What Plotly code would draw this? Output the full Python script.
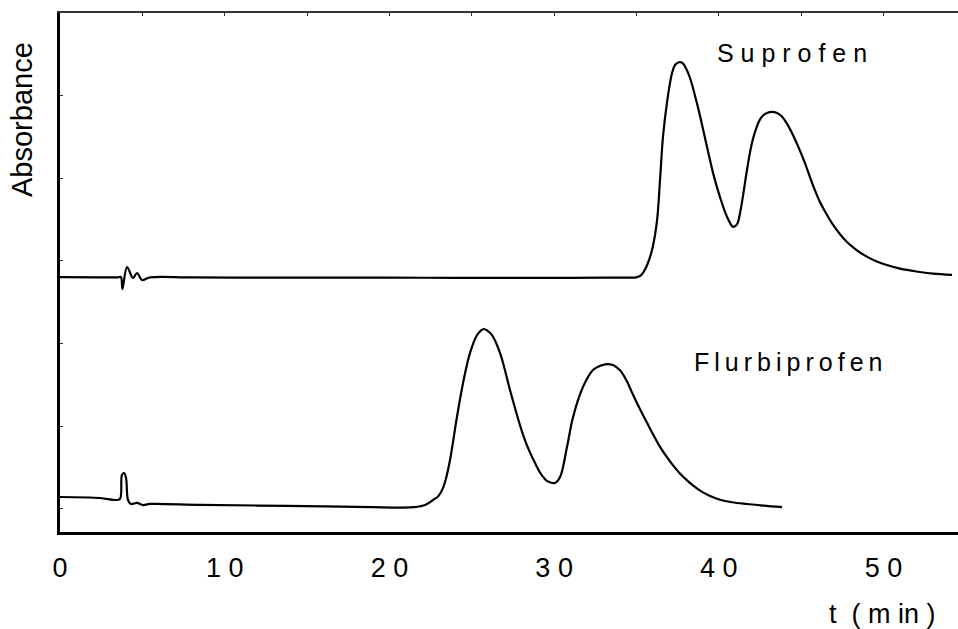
import plotly.graph_objects as go

# ---- data (t in min, absorbance in arbitrary units) ----
suprofen_t = [0.0, 2.43, 3.52, 3.70, 3.79, 4.07, 4.43, 4.68, 4.98, 5.46, 8.0, 12.0, 16.0, 20.0, 24.0,
              28.0, 31.0, 33.0, 34.3, 35.0, 35.25,
              35.45, 35.69, 35.99, 36.25, 36.43, 36.61, 36.85, 37.16, 37.35, 37.58, 37.80, 38.07,
              38.25, 38.43, 38.65, 38.86, 39.28, 39.65, 40.07, 40.50, 40.86, 41.10, 41.29, 41.71,
              41.90, 42.08, 42.30, 42.50, 42.70, 42.95, 43.23, 43.50, 43.80, 44.10, 44.50, 45.11,
              45.50, 45.72, 46.14, 46.55, 46.95, 47.36, 47.76, 48.17, 48.57, 48.98, 49.59, 50.0,
              51.0, 52.0, 53.0, 54.16]
suprofen_a = [3.083, 3.08, 3.08, 3.083, 2.938, 3.204, 3.071, 3.132, 3.047, 3.08, 3.078, 3.076, 3.075,
              3.075, 3.074, 3.074, 3.074, 3.075, 3.076, 3.08, 3.10,
              3.15, 3.25, 3.45, 3.77, 4.26, 4.78, 5.19, 5.55, 5.65, 5.68, 5.67, 5.58,
              5.49, 5.37, 5.20, 5.03, 4.66, 4.34, 4.05, 3.81, 3.69, 3.72, 3.86, 4.38,
              4.60, 4.76, 4.90, 4.99, 5.04, 5.07, 5.08, 5.07, 5.03, 4.95, 4.80, 4.52,
              4.31, 4.19, 3.99, 3.84, 3.71, 3.60, 3.51, 3.44, 3.38, 3.33, 3.27, 3.24,
              3.185, 3.15, 3.125, 3.11]

flurbi_t = [0.0, 2.43, 3.34, 3.64, 3.76, 3.89, 4.01, 4.13, 4.31, 4.68, 5.04, 5.46, 8.50, 12.0, 16.0,
            19.0, 20.64, 21.5, 22.2, 22.65, 23.0, 23.25, 23.45, 23.68, 24.10, 24.47, 24.89, 25.32,
            25.52, 25.74, 25.98, 26.23, 26.72, 27.32, 27.93, 28.25, 28.54, 28.85, 29.14, 29.40,
            29.63, 30.05, 30.36, 30.78, 31.15, 31.75, 32.36, 32.80, 33.21, 33.60, 34.00, 34.40,
            34.79, 35.20, 35.64, 36.43, 36.85, 37.22, 37.65, 38.07, 38.45, 38.86, 39.40, 40.07,
            40.80, 41.71, 42.70, 43.84]
flurbi_a = [0.423, 0.411, 0.387, 0.399, 0.689, 0.713, 0.653, 0.387, 0.339, 0.351, 0.326, 0.339, 0.328,
            0.320, 0.310, 0.300, 0.295, 0.300, 0.330, 0.387, 0.44, 0.53, 0.66, 0.871, 1.391,
            1.802, 2.164, 2.382, 2.43, 2.455, 2.43, 2.382, 2.164, 1.717, 1.29, 1.10, 0.96,
            0.83, 0.72, 0.65, 0.61, 0.593, 0.665, 1.028, 1.391, 1.753, 1.959, 2.01, 2.031,
            2.015, 1.955, 1.83, 1.66, 1.49, 1.32, 1.03, 0.905, 0.805, 0.705, 0.625, 0.56,
            0.50, 0.44, 0.39, 0.36, 0.339, 0.32, 0.302]

x_tickvals = [0, 10, 20, 30, 40, 50]
x_ticktext = ["0", "1 0", "2 0", "3 0", "4 0", "5 0"]
top_tickvals = [0, 5, 10, 15, 20, 25, 30, 35, 40, 45, 50]
y_tickvals = [0.28, 1.28, 2.28, 3.28, 4.28, 5.28]

FONT = "Liberation Sans, Arial, sans-serif"
TS = "\u2009"  # thin space used for the letter-spaced label

fig = go.Figure()
for tt, aa in ((suprofen_t, suprofen_a), (flurbi_t, flurbi_a)):
    fig.add_trace(go.Scatter(x=tt, y=aa, mode="lines",
                             line=dict(color="black", width=2.2, shape="spline", smoothing=1.0),
                             showlegend=False, hoverinfo="skip"))
# invisible trace to keep the top axis alive
fig.add_trace(go.Scatter(x=[0], y=[0], xaxis="x2", mode="markers", marker=dict(opacity=0),
                         showlegend=False, hoverinfo="skip"))

fig.update_layout(
    width=958, height=629,
    margin=dict(l=60, r=0, t=13, b=97),
    plot_bgcolor="white", paper_bgcolor="white",
    font=dict(family=FONT, color="black", size=26),
    xaxis=dict(range=[0, 54.52], tickvals=x_tickvals, ticktext=x_ticktext,
               showgrid=False, zeroline=False, showline=True, linecolor="black", linewidth=2.5,
               ticks="", ticklabelstandoff=10, tickfont=dict(size=27)),
    xaxis2=dict(range=[0, 54.52], overlaying="x", side="top", anchor="y", tickvals=top_tickvals,
                showticklabels=False, showgrid=False, zeroline=False, showline=True,
                linecolor="#333333", linewidth=2, ticks="inside", ticklen=3, tickcolor="#333333"),
    yaxis=dict(range=[0, 6.276], tickvals=y_tickvals, showticklabels=False, showgrid=False,
               zeroline=False, showline=True, linecolor="black", linewidth=3,
               ticks="inside", ticklen=3, tickcolor="#333333"),
)

fig.add_annotation(text="Absorbance", xref="paper", yref="paper", x=-60/898, y=1 - (120 - 13) / 519,
                   xanchor="left", yanchor="middle", textangle=-90, showarrow=False,
                   font=dict(size=29), xshift=4)
fig.add_annotation(text="S u p r o f e n", x=44.44, y=(532 - 53) / 82.7, xref="x", yref="y",
                   showarrow=False, font=dict(size=25), xanchor="center", yanchor="middle")
fig.add_annotation(text=TS.join("Flurbiprofen"), x=44.2, y=(532 - 362) / 82.7, xref="x", yref="y",
                   showarrow=False, font=dict(size=25), xanchor="center", yanchor="middle")
fig.add_annotation(text="t  ( m in )", xref="paper", yref="paper", x=(882 - 60) / 898,
                   y=-(614 - 532) / 519, showarrow=False, font=dict(size=27),
                   xanchor="center", yanchor="middle")

fig.write_html("out.html")
